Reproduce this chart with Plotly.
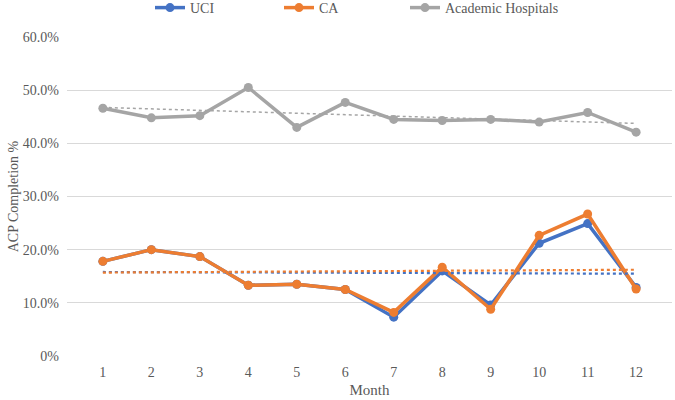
import plotly.graph_objects as go
import numpy as np

months = [1, 2, 3, 4, 5, 6, 7, 8, 9, 10, 11, 12]
uci = [0.178, 0.200, 0.187, 0.133, 0.135, 0.125, 0.073, 0.160, 0.096, 0.212, 0.249, 0.129]
ca = [0.178, 0.200, 0.187, 0.133, 0.135, 0.125, 0.082, 0.167, 0.088, 0.227, 0.267, 0.126]
academic = [0.466, 0.448, 0.452, 0.505, 0.430, 0.477, 0.445, 0.443, 0.445, 0.440, 0.458, 0.421]
y_ticks = [0, 0.1, 0.2, 0.3, 0.4, 0.5, 0.6]
y_tick_labels = ["0%", "10.0%", "20.0%", "30.0%", "40.0%", "50.0%", "60.0%"]

COLORS = {"UCI": "#4472C4", "CA": "#ED7D31", "Academic Hospitals": "#A5A5A5"}
FONT = "Liberation Serif, Times New Roman, serif"
TEXT = "#595959"

fig = go.Figure()

series = [("UCI", uci), ("CA", ca), ("Academic Hospitals", academic)]
legend_ids = ["legend", "legend2", "legend3"]
legend_x = [150, 279, 405]
for (name, vals), lid in zip(series, legend_ids):
    fig.add_trace(go.Scatter(x=months, y=vals, name=name, mode="lines+markers", legend=lid,
                             line=dict(color=COLORS[name], width=3.5),
                             marker=dict(size=9, color=COLORS[name])))

# linear trend lines (Excel style)
for name, vals in series:
    slope, intercept = np.polyfit(months, vals, 1)
    trend = [slope * m + intercept for m in months]
    fig.add_trace(go.Scatter(x=months, y=trend, mode="lines", showlegend=False,
                             hoverinfo="skip",
                             line=dict(color=COLORS[name], width=2.2 if name != "Academic Hospitals" else 1.5,
                                       dash="dot")))

legend_style = dict(orientation="h", xref="container", xanchor="left",
                    yref="container", y=0.98, yanchor="middle",
                    font=dict(family=FONT, size=14, color=TEXT), itemwidth=30)
layout_legends = {lid: dict(legend_style, x=lx / 675) for lid, lx in zip(legend_ids, legend_x)}

fig.update_layout(
    width=675, height=400,
    margin=dict(l=67, r=3, t=37, b=44),
    paper_bgcolor="white", plot_bgcolor="white",
    font=dict(family=FONT, size=14, color=TEXT),
    xaxis=dict(type="category", title=dict(text="Month", standoff=5, font=dict(size=15)),
               showgrid=False, showline=False, ticks="", zeroline=False, automargin=False,
               ticklabelstandoff=6),
    yaxis=dict(range=[0, 0.6], tickvals=y_ticks, ticktext=y_tick_labels,
               title=dict(text="ACP Completion %", standoff=0, font=dict(size=14)),
               showgrid=True, gridcolor="#D9D9D9", gridwidth=1, zeroline=False,
               showline=False, ticks="", automargin=False, ticklabelstandoff=7),
    **layout_legends,
)

# drop the page's default body margin so the figure fills the window
fig.write_html("out.html", config={"displayModeBar": False},
               post_script="document.body.style.margin='0';")
